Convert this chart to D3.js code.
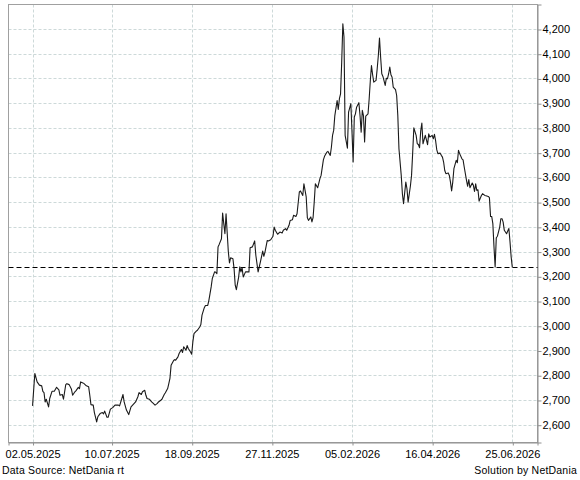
<!DOCTYPE html>
<html>
<head>
<meta charset="utf-8">
<script src="https://cdn.jsdelivr.net/npm/d3@7"></script>
<style>
  body { margin: 0; background: #fff; }
  text { font-family: "Liberation Sans", Arial, sans-serif; }
</style>
</head>
<body>
<div id="chart"></div>
<script>
// days since the first quote (02.05.2025)
const startDate = "2025-05-02";
const dayOffsets = [
  0, 2, 4, 6, 8, 9, 10, 11, 12, 14, 15, 17, 19, 21, 23, 24, 26, 27, 29, 30,
  32, 34, 35, 37, 38, 40, 41, 42, 44, 45, 47, 49, 50, 51, 53, 54, 56, 57, 59, 61,
  62, 63, 65, 66, 68, 70, 72, 75, 76, 79, 80, 82, 84, 86, 88, 90, 92, 93, 95, 96,
  98, 99, 100, 102, 104, 105, 107, 109, 110, 112, 113, 115, 116, 118, 119, 120, 121, 123, 124, 125,
  127, 128, 130, 131, 132, 134, 135, 136, 138, 139, 140, 141, 143, 144, 146, 147, 148, 150, 151, 153,
  154, 155, 156, 157, 159, 160, 161, 162, 163, 165, 166, 167, 168, 169, 171, 172, 173, 175, 176, 177,
  178, 180, 181, 182, 183, 184, 186, 187, 189, 190, 192, 194, 195, 197, 199, 201, 202, 203, 205, 206,
  208, 210, 211, 212, 214, 216, 218, 219, 221, 222, 224, 225, 227, 228, 230, 231, 233, 234, 236, 237,
  239, 240, 241, 243, 244, 245, 246, 247, 249, 251, 252, 254, 255, 257, 258, 260, 261, 262, 263, 264,
  266, 267, 268, 269, 270, 271, 272, 273, 275, 276, 278, 279, 280, 281, 282, 283, 285, 286, 287, 288,
  289, 290, 291, 293, 294, 295, 296, 297, 298, 300, 301, 302, 303, 304, 305, 306, 308, 309, 310, 311,
  312, 313, 314, 315, 317, 318, 319, 320, 322, 323, 324, 326, 327, 328, 330, 331, 332, 333, 335, 336,
  337, 338, 339, 340, 341, 343, 344, 345, 346, 347, 349, 350, 351, 352, 353, 354, 356, 357, 358, 359,
  360, 361, 363, 364, 365, 366, 367, 368, 370, 371, 372, 373, 375, 376, 377, 379, 380, 381, 382, 384,
  385, 386, 387, 388, 389, 390, 392, 393, 395, 396, 398, 399, 400, 401, 402, 403, 404, 405, 406, 408,
  409, 410, 411, 412, 414, 415, 416, 417, 418, 419
];
const prices = [
  2676, 2807, 2773, 2760, 2757, 2735, 2730, 2692, 2703, 2672, 2706, 2735, 2735, 2751, 2741, 2719, 2722, 2703, 2762, 2766,
  2762, 2743, 2719, 2733, 2738, 2751, 2746, 2773, 2769, 2766, 2757, 2753, 2719, 2681, 2679, 2649, 2611, 2632, 2645, 2649,
  2644, 2655, 2630, 2630, 2663, 2669, 2679, 2679, 2676, 2722, 2692, 2659, 2641, 2672, 2682, 2692, 2713, 2730, 2722, 2733,
  2739, 2719, 2706, 2703, 2692, 2688, 2679, 2686, 2692, 2699, 2703, 2722, 2729, 2746, 2766, 2787, 2840, 2858, 2863, 2861,
  2874, 2888, 2904, 2892, 2915, 2901, 2920, 2908, 2894, 2885, 2935, 2968, 2978, 2982, 2995, 3005, 3043, 3073, 3082, 3082,
  3103, 3130, 3157, 3191, 3218, 3216, 3211, 3319, 3329, 3352, 3456, 3413, 3372, 3453, 3298, 3254, 3275, 3271, 3231, 3164,
  3146, 3197, 3238, 3218, 3235, 3197, 3218, 3218, 3218, 3315, 3319, 3343, 3285, 3218, 3258, 3302, 3281, 3298, 3345, 3343,
  3348, 3362, 3399, 3386, 3370, 3379, 3375, 3386, 3393, 3386, 3406, 3426, 3429, 3447, 3442, 3453, 3541, 3545, 3527, 3574,
  3521, 3437, 3426, 3440, 3420, 3437, 3500, 3574, 3558, 3595, 3608, 3671, 3685, 3702, 3705, 3689, 3722, 3770, 3790, 3850,
  3911, 3875, 3918, 3938, 4066, 4221, 4167, 3770, 3718, 3864, 3898, 3783, 3662, 3844, 3857, 3884, 3902, 3850, 3783, 3871,
  3850, 3743, 3848, 3857, 3918, 3992, 4052, 4015, 3985, 3992, 4039, 4093, 4163, 4086, 4019, 4008, 3972, 4001, 3999, 4019,
  4046, 4015, 4005, 3965, 3955, 3931, 3850, 3716, 3608, 3534, 3494, 3581, 3554, 3500, 3565, 3608, 3700, 3800, 3770, 3736,
  3733, 3720, 3787, 3820, 3736, 3770, 3752, 3732, 3776, 3763, 3770, 3756, 3774, 3749, 3712, 3696, 3698, 3689, 3682, 3662,
  3628, 3615, 3618, 3608, 3581, 3545, 3581, 3635, 3669, 3659, 3709, 3696, 3675, 3671, 3642, 3588, 3564, 3591, 3558, 3577,
  3568, 3543, 3574, 3547, 3550, 3504, 3527, 3534, 3527, 3526, 3523, 3518, 3442, 3442, 3413, 3319, 3238, 3356, 3362, 3399,
  3433, 3433, 3419, 3386, 3372, 3383, 3393, 3339, 3278, 3236
];
const xTickLabels = ["02.05.2025", "10.07.2025", "18.09.2025", "27.11.2025", "05.02.2026", "16.04.2026", "25.06.2026"];
const yTickValues = [2600, 2700, 2800, 2900, 3000, 3100, 3200, 3300, 3400, 3500, 3600, 3700, 3800, 3900, 4000, 4100, 4200];
const xDomain = ["2025-04-11", "2026-07-17"];
const yDomain = [2528, 4299];
const lastPrice = prices[prices.length - 1];

const width = 580, height = 480;
const plot = { left: 8.5, top: 4.5, right: 537.5, bottom: 442.5 };

const parseIso = d3.utcParse("%Y-%m-%d");
const parseLabel = d3.utcParse("%d.%m.%Y");
const start = parseIso(startDate);

const data = dayOffsets.map((d, i) => ({
    date: d3.utcDay.offset(start, d),
    value: prices[i]
}));

const svg = d3.select("#chart")
    .append("svg")
    .attr("width", width)
    .attr("height", height);

const x = d3.scaleUtc()
    .domain(xDomain.map(parseIso))
    .range([plot.left, plot.right]);

const y = d3.scaleLinear()
    .domain(yDomain)
    .range([plot.bottom, plot.top]);

const xTicks = xTickLabels.map(parseLabel);

// grid
const grid = svg.append("g")
    .attr("stroke", "#cdd9d9")
    .attr("stroke-width", 1)
    .attr("stroke-dasharray", "3,2");

grid.selectAll(".hgrid")
    .data(yTickValues)
    .enter().append("line")
    .attr("x1", plot.left)
    .attr("x2", plot.right)
    .attr("y1", d => Math.round(y(d)) + 0.5)
    .attr("y2", d => Math.round(y(d)) + 0.5);

grid.selectAll(".vgrid")
    .data(xTicks)
    .enter().append("line")
    .attr("x1", d => Math.round(x(d)) + 0.5)
    .attr("x2", d => Math.round(x(d)) + 0.5)
    .attr("y1", plot.top)
    .attr("y2", plot.bottom);

// frame
svg.append("rect")
    .attr("x", plot.left)
    .attr("y", plot.top)
    .attr("width", plot.right - plot.left)
    .attr("height", plot.bottom - plot.top)
    .attr("fill", "none")
    .attr("stroke", "#a0a0a0");

// right axis
const yAxis = svg.append("g")
    .attr("transform", `translate(${plot.right},0)`)
    .call(d3.axisRight(y)
        .tickValues(yTickValues)
        .tickSize(4)
        .tickPadding(1)
        .tickFormat(d3.format(",")));
yAxis.select(".domain").attr("stroke", "#909090");
yAxis.selectAll(".tick line").attr("stroke", "#909090")
    .attr("transform", "translate(0,0.5)");
yAxis.selectAll("text")
    .attr("fill", "#000")
    .style("font-size", "11px")
    .style("font-family", "Liberation Sans, Arial, sans-serif");

// bottom axis
const xAxis = svg.append("g")
    .attr("transform", `translate(0,${plot.bottom})`)
    .call(d3.axisBottom(x)
        .tickValues(xTicks)
        .tickSize(3)
        .tickPadding(5)
        .tickFormat(d3.utcFormat("%d.%m.%Y")));
xAxis.select(".domain").attr("stroke", "#909090");
xAxis.selectAll(".tick line").attr("stroke", "#909090")
    .attr("transform", "translate(0.5,0)");
xAxis.selectAll("text")
    .attr("fill", "#000")
    .style("font-size", "11px")
    .style("font-family", "Liberation Sans, Arial, sans-serif");

// last price reference
svg.append("line")
    .attr("x1", plot.left)
    .attr("x2", plot.right)
    .attr("y1", Math.round(y(lastPrice)) + 0.5)
    .attr("y2", Math.round(y(lastPrice)) + 0.5)
    .attr("stroke", "#000")
    .attr("stroke-width", 1)
    .attr("stroke-dasharray", "5,3");

// price line
const line = d3.line()
    .x(d => x(d.date))
    .y(d => y(d.value));

svg.append("path")
    .datum(data)
    .attr("fill", "none")
    .attr("stroke", "#1a1a1a")
    .attr("stroke-width", 1.1)
    .attr("stroke-linejoin", "round")
    .attr("d", line);

// footer
svg.append("text")
    .attr("x", 2)
    .attr("y", 474)
    .style("font-size", "10.5px")
    .style("letter-spacing", "0.2px")
    .attr("fill", "#000")
    .text("Data Source: NetDania rt");

svg.append("text")
    .attr("x", 577)
    .attr("y", 474)
    .attr("text-anchor", "end")
    .style("font-size", "10.5px")
    .style("letter-spacing", "0.2px")
    .attr("fill", "#000")
    .text("Solution by NetDania");
</script>
</body>
</html>
